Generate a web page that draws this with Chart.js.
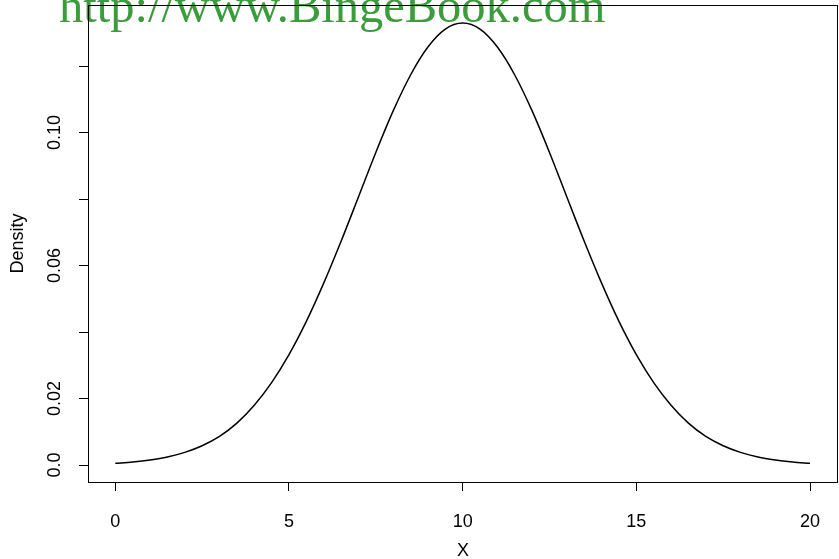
<!DOCTYPE html>
<html>
<head>
<meta charset="utf-8">
<script src="https://cdn.jsdelivr.net/npm/chart.js@4/dist/chart.umd.min.js"></script>
<style>
  html, body { margin: 0; padding: 0; background: #ffffff; }
  #wrap { position: relative; width: 839px; height: 559px; overflow: hidden; }
  #site {
    position: absolute; left: 59px; top: -18px; z-index: 0;
    font: 48.5px/48px "Liberation Serif", "Times New Roman", serif;
    color: #3a9c3a; white-space: nowrap;
  }
  #c { position: absolute; left: 0; top: 0; z-index: 1; }
</style>
</head>
<body>
<div id="wrap">
  <div id="site">http://www.BingeBook.com</div>
  <canvas id="c" width="839" height="559"></canvas>
</div>
<script>
// density curve sampled every half unit
const xValues = [0, 0.5, 1, 1.5, 2, 2.5, 3, 3.5, 4, 4.5, 5, 5.5, 6, 6.5, 7, 7.5, 8, 8.5, 9, 9.5,
                 10, 10.5, 11, 11.5, 12, 12.5, 13, 13.5, 14, 14.5, 15, 15.5, 16, 16.5, 17, 17.5,
                 18, 18.5, 19, 19.5, 20];
const densityValues = [0.0005, 0.0009, 0.0015, 0.0024, 0.0038, 0.0058, 0.0086, 0.0126, 0.0180, 0.0248,
                       0.0332, 0.0432, 0.0547, 0.0673, 0.0806, 0.0940, 0.1065, 0.1173, 0.1257, 0.1311,
                       0.1329, 0.1311, 0.1257, 0.1173, 0.1065, 0.0940, 0.0806, 0.0673, 0.0547, 0.0432,
                       0.0332, 0.0248, 0.0180, 0.0126, 0.0086, 0.0058, 0.0038, 0.0024, 0.0015, 0.0009,
                       0.0005];

const xTickValues = [0, 5, 10, 15, 20];
const xTickLabels = ['0', '5', '10', '15', '20'];
const yTickValues = [0, 0.02, 0.04, 0.06, 0.08, 0.10, 0.12];
const yTickLabels = ['0.0', '0.02', '', '0.06', '', '0.10', ''];

const points = xValues.map((x, i) => ({ x: x, y: densityValues[i] }));

const FONT = '"Liberation Sans", Arial, Helvetica, sans-serif';

// full box around the plotting region
const boxPlugin = {
  id: 'box',
  afterDraw(chart) {
    const { ctx, chartArea: a } = chart;
    ctx.save();
    ctx.strokeStyle = '#000';
    ctx.lineWidth = 1;
    ctx.strokeRect(Math.round(a.left) + 0.5, Math.round(a.top) + 0.5,
                   Math.round(a.right - a.left) - 1, Math.round(a.bottom - a.top));
    ctx.restore();
  }
};

new Chart(document.getElementById('c'), {
  type: 'line',
  data: {
    datasets: [{
      data: points,
      borderColor: '#000',
      borderWidth: 1.5,
      pointRadius: 0,
      fill: false,
      cubicInterpolationMode: 'monotone'
    }]
  },
  options: {
    responsive: false,
    animation: false,
    layout: { padding: { top: 5, right: 1, left: 0, bottom: 0 } },
    plugins: { legend: { display: false }, tooltip: { enabled: false } },
    scales: {
      x: {
        type: 'linear',
        min: -0.786,
        max: 20.806,
        afterBuildTicks(scale) { scale.ticks = xTickValues.map(v => ({ value: v })); },
        afterFit(scale) { scale.height = 77; scale.paddingLeft = 0; scale.paddingRight = 0; },
        border: { display: false },
        grid: { drawOnChartArea: false, drawTicks: true, tickLength: 9, color: '#000', lineWidth: 1 },
        ticks: {
          color: '#000',
          font: { family: FONT, size: 18 },
          padding: 20,
          maxRotation: 0,
          autoSkip: false,
          callback: (v, i) => xTickLabels[i]
        },
        title: {
          display: true,
          text: 'X',
          color: '#000',
          font: { family: FONT, size: 18, lineHeight: 0.9 },
          padding: { top: 0, bottom: 0 }
        }
      },
      y: {
        type: 'linear',
        min: -0.00511,
        max: 0.13835,
        afterBuildTicks(scale) { scale.ticks = yTickValues.map(v => ({ value: v })); },
        afterFit(scale) { scale.width = 88; scale.paddingTop = 0; scale.paddingBottom = 0; },
        border: { display: false },
        grid: { drawOnChartArea: false, drawTicks: true, tickLength: 9, color: '#000', lineWidth: 1 },
        ticks: {
          color: '#000',
          font: { family: FONT, size: 18 },
          padding: 6.5,
          minRotation: 90,
          maxRotation: 90,
          crossAlign: 'center',
          autoSkip: false,
          callback: (v, i) => yTickLabels[i]
        },
        title: {
          display: true,
          text: 'Density',
          color: '#000',
          font: { family: FONT, size: 18 },
          padding: { top: 7, bottom: 0 }
        }
      }
    }
  },
  plugins: [boxPlugin]
});
</script>
</body>
</html>
